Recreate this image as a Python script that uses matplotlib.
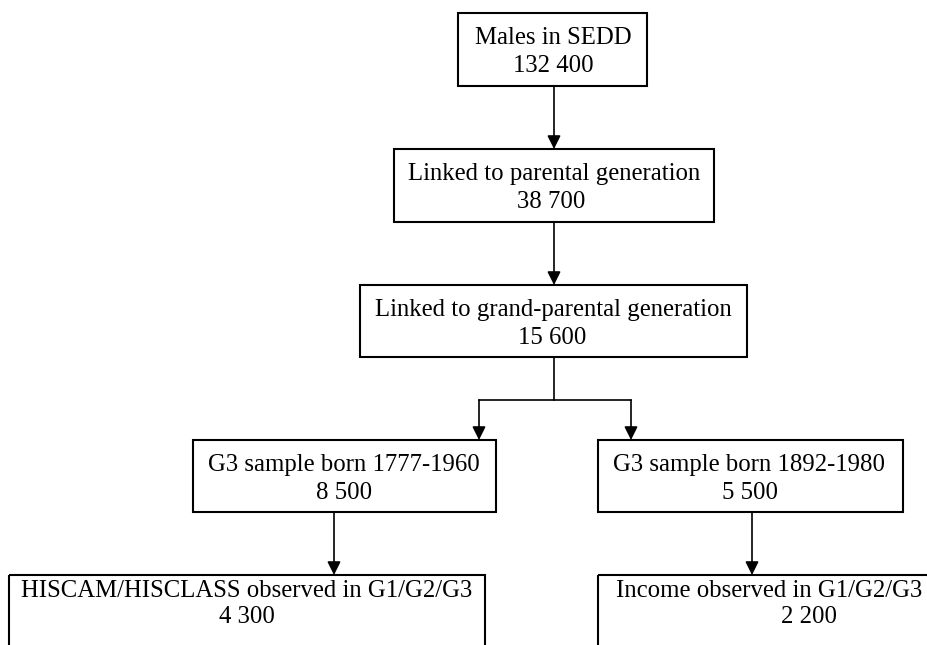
import matplotlib
matplotlib.use("Agg")
import matplotlib.pyplot as plt
from matplotlib.patches import Rectangle

# flowchart content
labels = ["Males in SEDD",
          "Linked to parental generation",
          "Linked to grand-parental generation",
          "G3 sample born 1777-1960",
          "G3 sample born 1892-1980",
          "HISCAM/HISCLASS observed in G1/G2/G3",
          "Income observed in G1/G2/G3"]
counts = [132400, 38700, 15600, 8500, 5500, 4300, 2200]

# layout in pixel units (x0, x1, y_top, y_bottom)
boxes = [(458, 647, 13, 86),
         (394, 714, 149, 222),
         (360, 747, 285, 357),
         (193, 496, 440, 512),
         (598, 903, 440, 512),
         (9, 485, 575, 700),
         (598, 945, 575, 700)]
# x of first and second text line, baselines relative to box top
line_x = [(553, 553), (554, 551), (553, 552), (344, 344), (749, 750), (247, 247), (769, 809)]
base_off = [(31, 59)] * 5 + [(22, 48)] * 2

plt.rcParams['font.family'] = ['Liberation Serif', 'DejaVu Serif']

fig = plt.figure(figsize=(9.28, 6.45), dpi=100)
ax = fig.add_axes([0, 0, 1, 1])
ax.set_xlim(0, 928)
ax.set_ylim(645, 0)
ax.axis('off')

for (x0, x1, yt, yb), lab, n, (lx1, lx2), (o1, o2) in zip(boxes, labels, counts, line_x, base_off):
    ax.add_patch(Rectangle((x0, yt), x1 - x0, yb - yt, fill=False, edgecolor='black', linewidth=1.5))
    ax.text(lx1, yt + o1, lab, ha='center', va='baseline', fontsize=17.8)
    ax.text(lx2, yt + o2, f"{n:,}".replace(",", " "), ha='center', va='baseline', fontsize=17.8)


def arrow(x, y0, y1):
    ax.annotate('', xy=(x, y1), xytext=(x, y0),
                arrowprops=dict(arrowstyle='-|>', lw=1.2, color='black',
                                mutation_scale=20, shrinkA=0, shrinkB=0))


arrow(554, 86, 149)
arrow(554, 222, 285)
ax.plot([554, 554], [357, 400], color='black', lw=1.2)
ax.plot([479, 631], [400, 400], color='black', lw=1.2)
arrow(479, 400, 440)
arrow(631, 400, 440)
arrow(334, 512, 575)
arrow(752, 512, 575)

fig.savefig("out.png", dpi=100)
